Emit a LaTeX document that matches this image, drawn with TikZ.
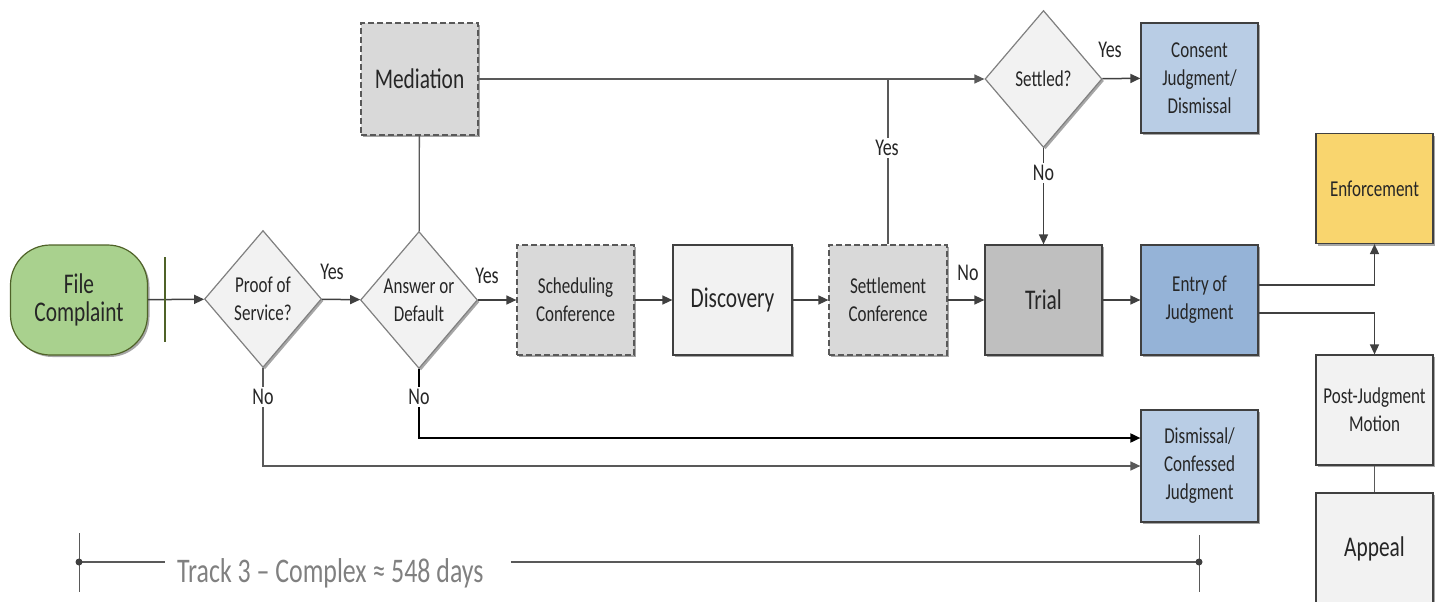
\documentclass[tikz,border=0pt]{standalone}
\usepackage{fontspec}
\setmainfont{Carlito}[FakeStretch=0.75]
\usetikzlibrary{shapes.geometric,arrows.meta,shadows}
\definecolor{lineC}{HTML}{404040}
\definecolor{lineM}{HTML}{595959}
\definecolor{txtC}{HTML}{262626}
\definecolor{greenF}{HTML}{A9D18E}
\definecolor{greenD}{HTML}{4F6228}
\definecolor{grayF2}{HTML}{F2F2F2}
\definecolor{grayD9}{HTML}{D9D9D9}
\definecolor{grayBF}{HTML}{BFBFBF}
\definecolor{blueL}{HTML}{B9CDE5}
\definecolor{blueM}{HTML}{95B3D7}
\definecolor{yellowF}{HTML}{F9D56E}
\definecolor{trackC}{HTML}{808080}
\newcommand\fsSmall{\fontsize{22.7}{28}\selectfont}
\newcommand\fsBig{\fontsize{28.5}{30}\selectfont}
\newcommand\fsLab{\fontsize{24}{28}\selectfont}
\newcommand\fsTrack{\fontsize{34.5}{40}\selectfont}
\tikzset{
  shad/.style={drop shadow={shadow xshift=2pt,shadow yshift=-2pt,opacity=.35,fill=black}},
  box/.style={shad,draw=lineC,line width=1.2pt,minimum width=117pt,minimum height=110pt,
    inner sep=0pt,align=center,font=\fsSmall,text=txtC},
  bigtext/.style={font=\fsBig},
  dbox/.style={box,fill=grayD9,draw=lineM,dash pattern=on 6pt off 3pt},
  diam/.style={shad,shape=diamond,draw=gray,line width=1.2pt,fill=grayF2,minimum width=117pt,
    minimum height=137pt,inner sep=0pt,align=center,font=\fsSmall,text=txtC},
  stadium/.style={shad,draw=greenD,line width=1.2pt,fill=greenF,rounded corners=40pt,
    minimum width=137pt,minimum height=110pt,align=center,font=\fsBig,text=txtC},
  arr/.style={draw=lineC,line width=1.5pt,-{Triangle[length=10pt,width=9pt]}},
  arrK/.style={draw=black,line width=1.8pt,-{Triangle[length=10pt,width=9pt]}},
  med/.style={draw=lineM,line width=1.3pt},
  medarr/.style={med,-{Triangle[length=10pt,width=9pt]}},
  lab/.style={font=\fsLab,text=txtC,inner sep=1pt},
  labw/.style={lab,fill=white,inner sep=2pt},
}
\begin{document}
\begin{tikzpicture}[x=1pt,y=-1pt]
\useasboundingbox (0,0) rectangle (1443,602);
% nodes
\node[stadium] (fc) at (79,300) {File\\[-2pt]Complaint};
\node[diam] (pos) at (263,299) {Proof of\\Service?};
\node[diam] (ans) at (419,300) {Answer or\\Default};
\node[dbox,bigtext,minimum height=112pt] (med) at (419.5,79) {Mediation};
\node[dbox] (sch) at (575.5,300) {Scheduling\\Conference};
\node[box,fill=grayF2,bigtext,minimum width=119pt] (disc) at (732.5,300) {Discovery};
\node[dbox,minimum width=118pt] (set) at (888,300) {Settlement\\Conference};
\node[box,fill=grayBF,bigtext] (trial) at (1043.5,300) {Trial};
\node[diam] (sett) at (1043.5,79) {Settled?};
\node[box,fill=blueL] (cons) at (1199.5,78) {Consent\\Judgment/\\Dismissal};
\node[box,fill=blueM] (entry) at (1199.5,300) {Entry of\\Judgment};
\node[box,fill=yellowF] (enf) at (1374.5,188.5) {Enforcement};
\node[box,fill=grayF2] (pjm) at (1374.5,410) {Post-Judgment\\Motion};
\node[box,fill=grayF2,bigtext,minimum height=112pt] (app) at (1374.5,549) {Appeal};
\node[box,fill=blueL,minimum height=112pt] (dis) at (1199.5,466) {Dismissal/\\Confessed\\Judgment};
% connectors
\draw[arr] (fc) -- (pos);
\coordinate (bt) at (165,257);
\coordinate (bb) at (165,342);
\draw[greenD,line width=2pt] (bt) -- (bb);
\draw[arr] (pos) -- (ans);
\draw[arr] (ans) -- (sch);
\draw[arr] (sch) -- (disc);
\draw[arr] (disc) -- (set);
\draw[arr] (set) -- (trial);
\draw[arr] (trial) -- (entry);
\draw[arr] ([yshift=15pt]entry.east) -| (enf.south);
\draw[arr] ([yshift=-13pt]entry.east) -| (pjm.north);
\draw[med,line width=1.5pt] (pjm) -- (app);
\draw[med] (med) -- (ans);
\draw[medarr] (med) -- (sett);
\draw[med] (set.north) -- (set.north |- med.east);
\draw[arr] (sett) -- (cons);
\draw[arr] (sett) -- (trial);
\draw[arrK] (ans.south) |- ([yshift=28pt]dis.west);
\draw[arr,draw=lineM] (pos.south) |- (dis.west);
% labels
\node[lab] (l1) at (332,272) {Yes};
\node[lab] (l2) at (487,276) {Yes};
\node[lab] (l3) at (968,273) {No};
\node[lab] (l4) at (1110,50) {Yes};
\node[labw] (l5) at (1043.5,173) {No};
\node[labw] (l6) at (887,148) {Yes};
\node[labw] (l7) at (263,397) {No};
\node[labw] (l8) at (419,397) {No};
% timeline
\coordinate (tl) at (79,562);
\coordinate (tr) at (1199,562);
\coordinate (tlt) at (79,533);
\coordinate (tlb) at (79,592);
\coordinate (trt) at (1199,535);
\coordinate (trb) at (1199,592);
\node[anchor=base west,font=\fsTrack,text=trackC,inner sep=0pt] (track) at (177,582) {Track 3 – Complex ≈ 548 days};
\draw[lineM,line width=1pt] (tlt) -- (tlb);
\draw[lineM,line width=1pt] (trt) -- (trb);
\draw[lineM,line width=2pt] (tl) -- ([xshift=-12pt]track.west |- tl);
\draw[lineM,line width=2pt] ([xshift=27pt]track.east |- tr) -- (tr);
\fill[lineC] (tl) circle (3.5pt);
\fill[lineC] (tr) circle (3.5pt);
\end{tikzpicture}
\end{document}
